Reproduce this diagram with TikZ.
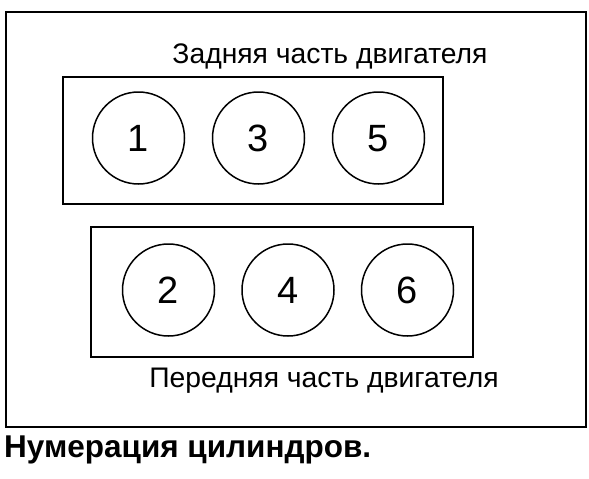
\documentclass[tikz,border=0pt]{standalone}
\usepackage{fontspec}
\setmainfont{Liberation Sans}
\begin{document}
\begin{tikzpicture}[x=1pt,y=-1pt,
  frame/.style={draw,line width=1.8pt},
  block/.style={draw,line width=1.8pt},
  cyl/.style={draw,circle,line width=1.5pt,minimum size=92pt,inner sep=0pt,text height=27pt,text depth=0pt,font=\fontsize{38}{38}\selectfont},
  lbl/.style={font=\fontsize{28.3}{28}\selectfont,inner sep=0pt,anchor=base},
  captext/.style={font=\bfseries\fontsize{31.5}{31}\selectfont,inner sep=0pt,anchor=base west}]
\useasboundingbox (0,0) rectangle (589,479);
\draw[frame] (6,12) rectangle (586,427);
\draw[block] (63,77) rectangle (443,204);
\draw[block] (91,227) rectangle (473,357);
\node[cyl] (c1) at (138.5,138) {1};
\node[cyl] (c3) at (258.5,138) {3};
\node[cyl] (c5) at (378.5,138) {5};
\node[cyl] (c2) at (168.5,290) {2};
\node[cyl] (c4) at (288,290) {4};
\node[cyl] (c6) at (407.5,290) {6};
\node[lbl] (rear) at (330,63) {Задняя часть двигателя};
\node[lbl] (front) at (324,387) {Передняя часть двигателя};
\node[captext] (title) at (4,457) {Нумерация цилиндров.};
\end{tikzpicture}
\end{document}
